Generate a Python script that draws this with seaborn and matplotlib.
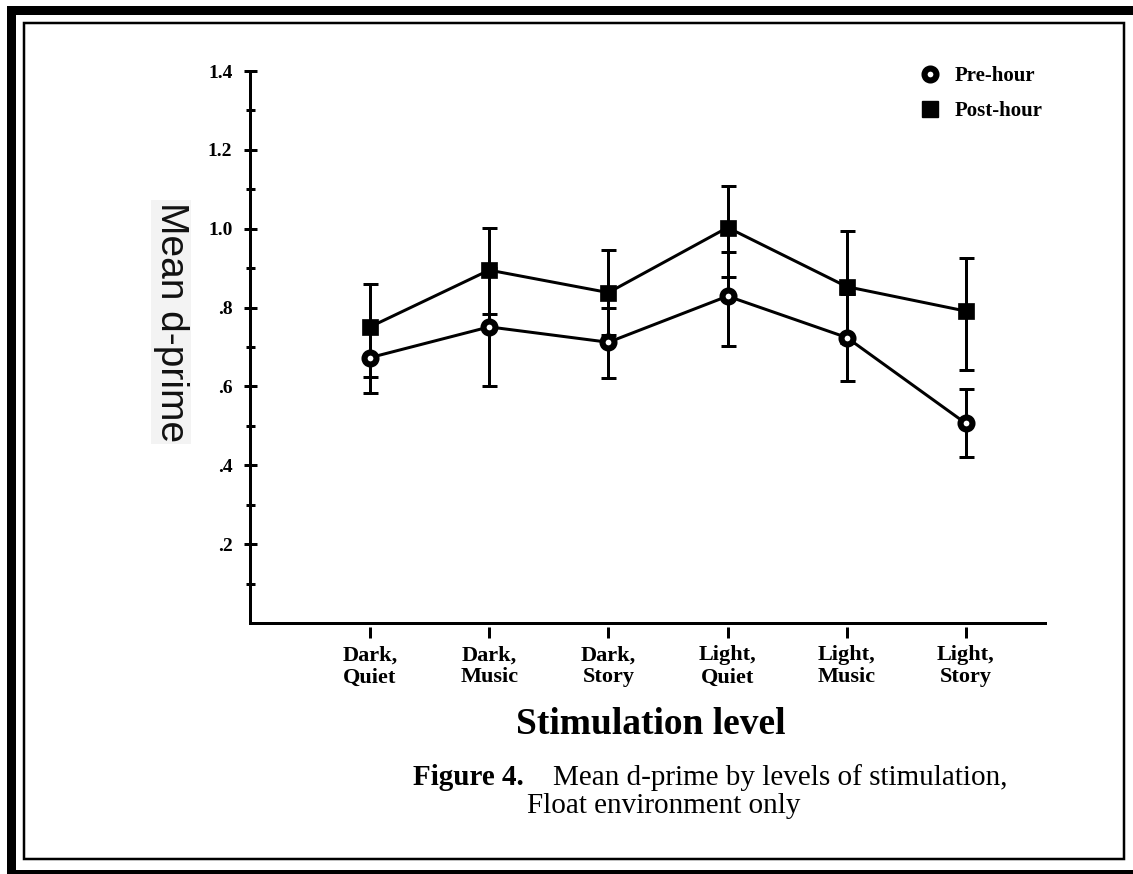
import matplotlib
matplotlib.use("Agg")
import matplotlib.pyplot as plt
from matplotlib.patches import Rectangle
from matplotlib.lines import Line2D
import seaborn as sns
import pandas as pd
import numpy as np

# ---------------- data ----------------
categories = ["Dark,\nQuiet", "Dark,\nMusic", "Dark,\nStory",
              "Light,\nQuiet", "Light,\nMusic", "Light,\nStory"]
pre_mean = [0.673, 0.751, 0.712, 0.829, 0.724, 0.506]
pre_low = [0.583, 0.602, 0.622, 0.703, 0.614, 0.420]
pre_high = [0.763, 0.900, 0.798, 0.940, 0.834, 0.593]
post_mean = [0.751, 0.895, 0.838, 1.003, 0.853, 0.791]
post_low = [0.623, 0.784, 0.730, 0.878, 0.710, 0.642]
post_high = [0.859, 1.001, 0.946, 1.109, 0.994, 0.925]
series_names = ["Pre-hour", "Post-hour"]
ytick_values = [0.2, 0.4, 0.6, 0.8, 1.0, 1.2, 1.4]
ytick_labels = [".2", ".4", ".6", ".8", "1.0", "1.2", "1.4"]
yminor_values = [0.1, 0.3, 0.5, 0.7, 0.9, 1.1, 1.3]

# ---------------- figure ----------------
sns.set_theme(style="white")
plt.rcParams["font.family"] = ["Liberation Serif", "DejaVu Serif"]
plt.rcParams["text.color"] = "black"
plt.rcParams["axes.labelcolor"] = "black"
plt.rcParams["xtick.color"] = "black"
plt.rcParams["ytick.color"] = "black"

W, H = 1133, 874
fig = plt.figure(figsize=(W / 100, H / 100), dpi=100)
PX = 72 / 100  # points per pixel

def fx(x):
    return x / W

def fy(y):
    return 1 - y / H

ax_left, ax_right, ax_top, ax_bottom = 250, 1045, 71, 623
ax = fig.add_axes([fx(ax_left), fy(ax_bottom),
                   (ax_right - ax_left) / W, (ax_bottom - ax_top) / H])
ax.set_facecolor("none")

x_pos = np.arange(len(categories))
df_pre = pd.DataFrame({"x": x_pos, "y": pre_mean})
df_post = pd.DataFrame({"x": x_pos, "y": post_mean})

lw = 3 * PX
circ_ms, circ_mew = 8.6, 4.4
sq_ms = 11.5

# error bars
for mean, lo, hi in [(pre_mean, pre_low, pre_high), (post_mean, post_low, post_high)]:
    m = np.array(mean)
    ax.errorbar(x_pos, m, yerr=[m - np.array(lo), np.array(hi) - m], fmt="none",
                ecolor="black", elinewidth=lw, capsize=5.4, capthick=lw, zorder=2)

sns.lineplot(data=df_pre, x="x", y="y", ax=ax, color="black", linewidth=lw,
             marker="o", markersize=circ_ms, markerfacecolor="white",
             markeredgecolor="black", markeredgewidth=circ_mew, zorder=3)
sns.lineplot(data=df_post, x="x", y="y", ax=ax, color="black", linewidth=lw,
             marker="s", markersize=sq_ms, markerfacecolor="black",
             markeredgecolor="black", markeredgewidth=0.5, zorder=3)

ax.set_xlim(-1.007, 5.663)
ax.set_ylim(0, 1.4)

for s in ["top", "right"]:
    ax.spines[s].set_visible(False)
for s in ["left", "bottom"]:
    ax.spines[s].set_color("black")
    ax.spines[s].set_linewidth(lw)

ax.set_yticks(ytick_values)
ax.set_yticklabels(ytick_labels, fontsize=14, fontweight="bold")
ax.set_yticks(yminor_values, minor=True)
ax.tick_params(axis="y", which="major", direction="inout", length=13 * PX,
               width=lw, color="black", pad=8, left=True, labelcolor="black")
ax.tick_params(axis="y", which="minor", direction="inout", length=9 * PX,
               width=lw, color="black", left=True)

ax.set_xticks(x_pos)
ax.set_xticklabels(categories, fontsize=16, fontweight="bold", linespacing=1.15)
ax.tick_params(axis="x", which="major", length=0, pad=16, labelcolor="black")
# detached tick marks below the axis
ax.vlines(x_pos, -4 / (ax_bottom - ax_top), -15 / (ax_bottom - ax_top),
          transform=ax.get_xaxis_transform(), colors="black", linewidth=lw,
          clip_on=False)
ax.set_xlabel("")
ax.set_ylabel("")

# y label
fig.text(fx(171), fy(322), "Mean d-prime", rotation=270, ha="center", va="center",
         rotation_mode="anchor", fontsize=28, family=["Liberation Sans", "DejaVu Sans"],
         color="#111111",
         bbox=dict(facecolor="#f3f3f3", edgecolor="none", pad=1))

# x label
fig.text(fx(651), fy(724), "Stimulation level", ha="center", va="center",
         fontsize=27, fontweight="bold")

# caption
fig.text(fx(413), fy(785), "Figure 4.", ha="left", va="baseline",
         fontsize=21, fontweight="bold")
fig.text(fx(553), fy(785), "Mean d-prime by levels of stimulation,", ha="left",
         va="baseline", fontsize=21)
fig.text(fx(527), fy(813), "Float environment only", ha="left", va="baseline",
         fontsize=21)

# legend
handles = [
    Line2D([], [], ls="none", marker="o", markersize=circ_ms, markerfacecolor="white",
           markeredgecolor="black", markeredgewidth=circ_mew),
    Line2D([], [], ls="none", marker="s", markersize=sq_ms, markerfacecolor="black",
           markeredgecolor="black"),
]
leg = fig.legend(handles, series_names, loc="upper left",
                 bbox_to_anchor=(fx(917), fy(66)), frameon=False,
                 prop=dict(family="Liberation Serif", weight="bold", size=15),
                 handlelength=1.2, handletextpad=0.6, labelspacing=0.72,
                 borderpad=0, borderaxespad=0)

# frames
def rect_px(x0, y0, x1, y1, lwpx):
    r = Rectangle((fx(x0), fy(y1)), (x1 - x0) / W, (y1 - y0) / H,
                  transform=fig.transFigure, fill=False, edgecolor="black",
                  linewidth=lwpx * PX, clip_on=False)
    fig.add_artist(r)

rect_px(11, 9.5, 1145, 873.5, 9)
rect_px(24, 23, 1124, 859, 2.5)

fig.savefig("out.png", dpi=100)
